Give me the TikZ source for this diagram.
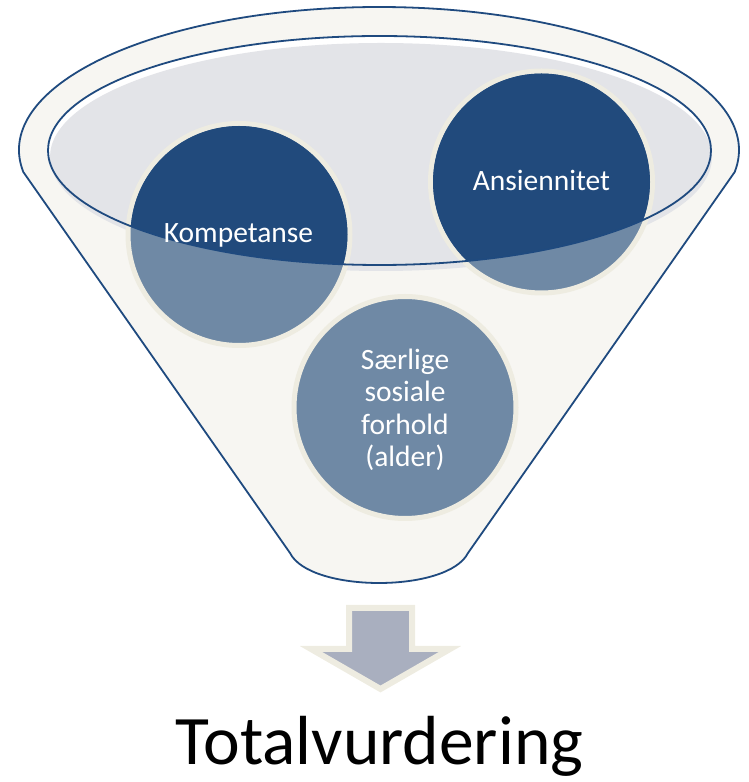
\documentclass[tikz,border=0pt]{standalone}
\usepackage{fontspec}
\setmainfont{Carlito}
\definecolor{navyline}{HTML}{1F4A7F}
\definecolor{funnelfill}{HTML}{F7F6F2}
\definecolor{innergray}{HTML}{E3E4E8}
\definecolor{darkblue}{HTML}{214A7C}
\definecolor{lightblue}{HTML}{6F89A5}
\definecolor{ringbeige}{HTML}{EEECE1}
\definecolor{arrowfill}{HTML}{A9AFBF}
\begin{document}
\begin{tikzpicture}[x=1pt,y=1pt,
  bubble/.style={circle, minimum size=222pt, inner sep=0pt, fill=lightblue, draw=ringbeige, line width=5pt},
  bubbletext/.style={text=white, font=\fontsize{29.5}{32.5}\selectfont, align=center},
  outline/.style={draw=navyline, line width=1.8pt}]
\useasboundingbox (0,0) rectangle (748,782);
% funnel body
\path[fill=funnelfill, outline, line join=round]
  (23.3,610) arc[start angle=188.85, end angle=-8.85, x radius=360, y radius=143]
  -- (468,229) .. controls (448,189) and (310,189) .. (290,229) -- cycle;
% inner opening
\fill[white] (379.5,631.5) ellipse[x radius=331.5, y radius=114.5];
\fill[innergray] (381,625) ellipse[x radius=331, y radius=114];
% circles
\node[bubble] (komp) at (239,547.5) {};
\node[bubble] (ans) at (541.5,600) {};
\node[bubble] (saer) at (405,374.5) {};
\begin{scope}
  \clip (379.5,631.5) ellipse[x radius=331.5, y radius=114.5];
  \fill[darkblue] (komp.center) circle (108.5);
  \fill[darkblue] (ans.center) circle (108.5);
\end{scope}
\draw[outline] (379.5,631.5) ellipse[x radius=331.5, y radius=114.5];
% labels
\node[bubbletext, anchor=base] (kompT) at (238.5,539) {Kompetanse};
\node[bubbletext, anchor=base] (ansT) at (541.5,591) {Ansiennitet};
\node[bubbletext] (saerT) at (405,372) {Særlige\\sosiale\\forhold\\(alder)};
% arrow
\draw[fill=arrowfill, draw=ringbeige, line width=6pt, line join=miter]
  (349,174) -- (412,174) -- (412,133) -- (450,133) -- (380.5,93) -- (311,133) -- (349,133) -- cycle;
\node[anchor=base, font=\fontsize{69.5}{80}\selectfont] (total) at (379.5,17) {Totalvurdering};
\end{tikzpicture}
\end{document}
